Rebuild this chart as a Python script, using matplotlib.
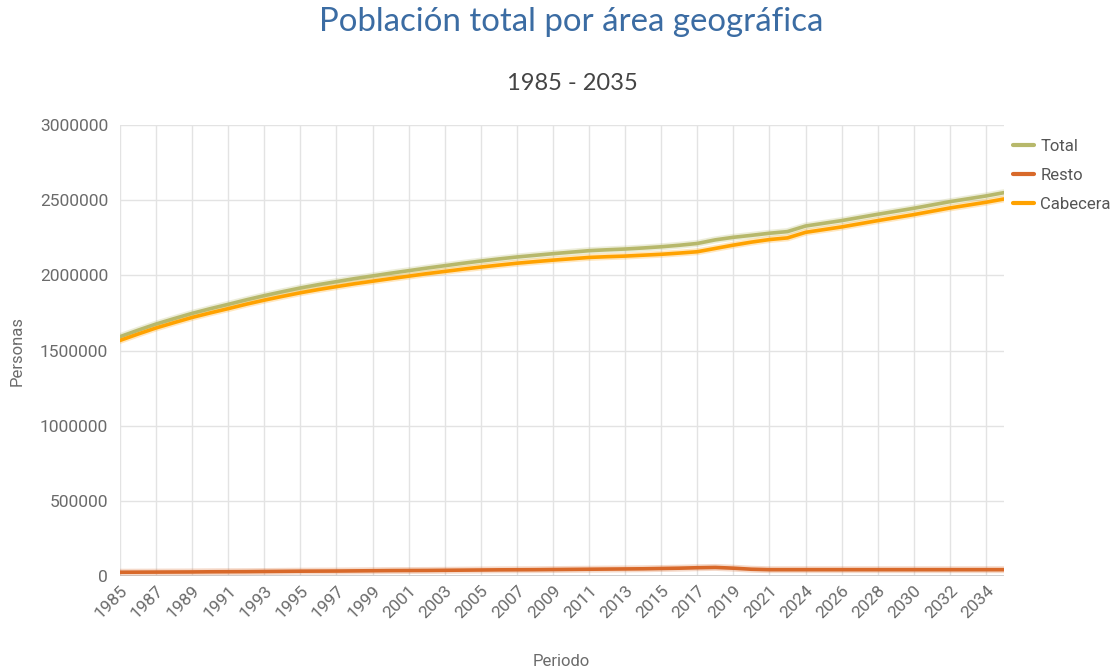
import matplotlib
matplotlib.use("Agg")
import matplotlib.pyplot as plt

# data (2022 is not in the series)
years = [1985, 1986, 1987, 1988, 1989, 1990, 1991, 1992, 1993, 1994,
         1995, 1996, 1997, 1998, 1999, 2000, 2001, 2002, 2003, 2004,
         2005, 2006, 2007, 2008, 2009, 2010, 2011, 2012, 2013, 2014,
         2015, 2016, 2017, 2018, 2019, 2020, 2021, 2023, 2024, 2025,
         2026, 2027, 2028, 2029, 2030, 2031, 2032, 2033, 2034, 2035]

total = [1592000, 1635000, 1676000, 1712000, 1747000, 1778000, 1807000, 1837000, 1865000, 1891000,
         1916000, 1938000, 1958000, 1978000, 1996000, 2014000, 2031000, 2048000, 2064000, 2080000,
         2095000, 2109000, 2122000, 2133000, 2144000, 2154000, 2164000, 2170000, 2175000, 2182000,
         2190000, 2200000, 2212000, 2236000, 2253000, 2266000, 2280000, 2291000, 2328000, 2346000,
         2364000, 2385000, 2406000, 2426000, 2446000, 2468000, 2490000, 2509000, 2528000, 2550000]

resto = [25000, 25500, 26000, 26500, 27000, 28000, 28500, 29000, 30000, 31000,
         32000, 32500, 33000, 34000, 35000, 36000, 36500, 37000, 38000, 39000,
         40000, 41000, 41500, 42000, 43000, 44000, 45000, 46000, 47000, 48000,
         50000, 52000, 55000, 57000, 52000, 45000, 42000, 42000, 42000, 42000,
         42000, 42000, 42000, 42000, 42000, 42000, 42000, 42000, 42000, 42000]

cabecera = [1567000, 1609500, 1650000, 1685500, 1720000, 1750000, 1778500, 1808000, 1835000, 1860000,
            1884000, 1905500, 1925000, 1944000, 1961000, 1978000, 1994500, 2011000, 2026000, 2041000,
            2055000, 2068000, 2080500, 2091000, 2101000, 2110000, 2119000, 2124000, 2128000, 2134000,
            2140000, 2148000, 2157000, 2179000, 2201000, 2221000, 2238000, 2249000, 2286000, 2304000,
            2322000, 2343000, 2364000, 2384000, 2404000, 2426000, 2448000, 2467000, 2486000, 2508000]

series = [("Total", total, "#b7b86b"),
          ("Resto", resto, "#d8692a"),
          ("Cabecera", cabecera, "#ffa200")]

plt.rcParams['font.family'] = ['Roboto', 'DejaVu Sans']

fig = plt.figure(figsize=(11.15, 6.71), dpi=100)
ax = fig.add_axes([120 / 1115, 1 - 576 / 671, (1004 - 120) / 1115, (576 - 125) / 671])

x = list(range(len(years)))
for name, vals, col in series:
    ax.plot(x, vals, color=col, lw=5, alpha=0.25, solid_capstyle='round', zorder=3)
    ax.plot(x, vals, color=col, lw=2.6, label=name, solid_capstyle='round', zorder=4)

ax.set_xlim(0, len(years) - 1)
ax.set_ylim(0, 3000000)

yt = list(range(0, 3000001, 500000))
ax.set_yticks(yt)
ax.set_yticklabels([str(v) for v in yt])
ax.set_xticks(x[::2])
ax.set_xticklabels([str(y) for y in years[::2]], rotation=45, ha='right', rotation_mode='anchor')

ax.tick_params(length=0, labelsize=12.5, labelcolor='#6b6b6b')
ax.tick_params(axis='y', pad=8.5)
ax.tick_params(axis='x', pad=5)

ax.grid(True, color='#e3e3e3', lw=1)
ax.set_axisbelow(True)
for s in ax.spines.values():
    s.set_visible(False)
ax.axhline(0, color='#cccccc', lw=2, zorder=2)

fig.text(571 / 1115, 1 - 22 / 671, "Población total por área geográfica", ha='center', va='center',
         fontsize=23.8, color='#3b6ca3', family=['Lato', 'DejaVu Sans'])
fig.text(572 / 1115, 1 - 84 / 671, "1985 - 2035", ha='center', va='center',
         fontsize=17, color='#444444', family=['Lato', 'DejaVu Sans'])
fig.text(17 / 1115, 1 - 351 / 671, "Personas", rotation=90, ha='center', va='center',
         fontsize=12, color='#6b6b6b')
fig.text(561 / 1115, 1 - 661 / 671, "Periodo", ha='center', va='center',
         fontsize=12, color='#6b6b6b')

leg = ax.legend(loc='upper left', bbox_to_anchor=(0.993, 1.003), frameon=False,
                handlelength=1.26, handletextpad=0.4, labelspacing=0.85, fontsize=12)
for t in leg.get_texts():
    t.set_color('#555555')
for h in leg.get_lines():
    h.set_linewidth(3)

fig.savefig("out.png", dpi=100)
